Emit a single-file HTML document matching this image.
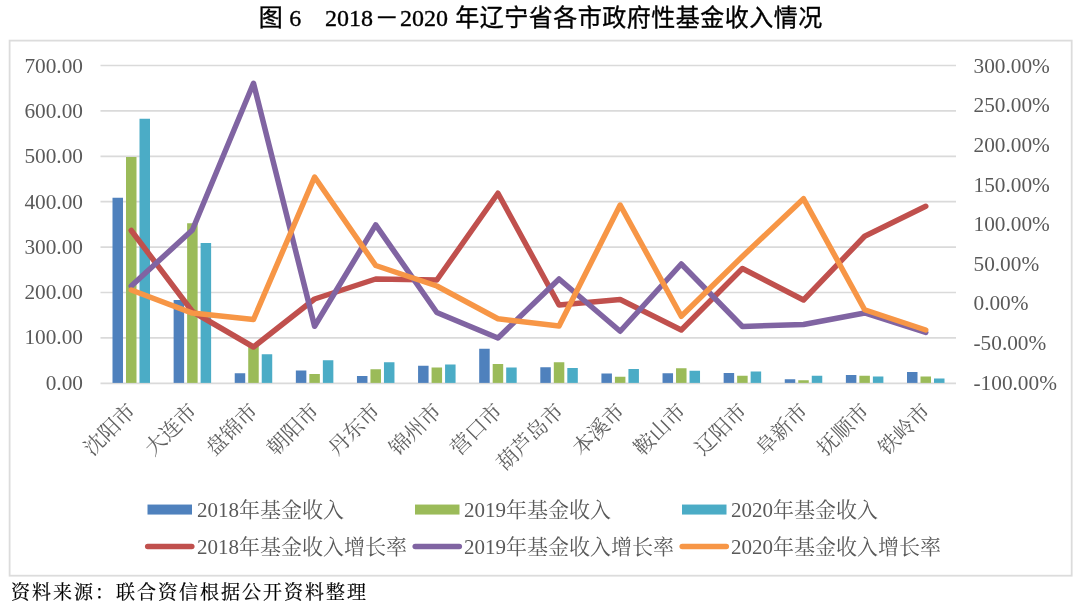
<!DOCTYPE html>
<html lang="zh-CN">
<head>
<meta charset="utf-8">
<title>图 6 2018－2020 年辽宁省各市政府性基金收入情况</title>
<style>
html,body{margin:0;padding:0;background:#fff;}
body{width:1080px;height:608px;overflow:hidden;position:relative;}
svg{display:block;position:absolute;left:0;top:0;}
.ax{font-family:"Liberation Serif","Noto Serif CJK SC",serif;font-size:21.3px;fill:#595959;}
.cat{font-family:"Liberation Serif","Noto Serif CJK SC",serif;font-size:21px;fill:#616161;}
.lg{font-family:"Liberation Serif","Noto Serif CJK SC",serif;font-size:21px;fill:#595959;}
.title{font-family:"Liberation Serif","Noto Sans CJK SC",sans-serif;font-size:24px;font-weight:400;fill:#000;stroke:#000;stroke-width:0.35px;}
.src{font-family:"Liberation Serif","Noto Serif CJK SC",serif;font-size:19px;fill:#000;stroke:#000;stroke-width:0.2px;letter-spacing:2px;}
</style>
</head>
<body>
<svg width="1080" height="608" viewBox="0 0 1080 608">
<rect x="0" y="0" width="1080" height="608" fill="#fff"/>
<text class="title" y="25.8" xml:space="preserve"><tspan x="258.7">图 </tspan><tspan x="289.3">6   </tspan><tspan x="325">2018</tspan><tspan x="374.8">－</tspan><tspan x="400">2020 </tspan><tspan x="455.2" letter-spacing="0.5">年辽宁省各市政府性基金收入情况</tspan></text>
<rect x="9.6" y="40.6" width="1062.1" height="535.1" fill="#fff" stroke="#dcdcdc" stroke-width="1.8"/>
<line x1="100.5" x2="956" y1="65.50" y2="65.50" stroke="#dadada" stroke-width="1.7"/>
<line x1="100.5" x2="956" y1="110.90" y2="110.90" stroke="#dadada" stroke-width="1.7"/>
<line x1="100.5" x2="956" y1="156.30" y2="156.30" stroke="#dadada" stroke-width="1.7"/>
<line x1="100.5" x2="956" y1="201.70" y2="201.70" stroke="#dadada" stroke-width="1.7"/>
<line x1="100.5" x2="956" y1="247.10" y2="247.10" stroke="#dadada" stroke-width="1.7"/>
<line x1="100.5" x2="956" y1="292.50" y2="292.50" stroke="#dadada" stroke-width="1.7"/>
<line x1="100.5" x2="956" y1="337.90" y2="337.90" stroke="#dadada" stroke-width="1.7"/>
<line x1="100.5" x2="956" y1="383.30" y2="383.30" stroke="#dadada" stroke-width="1.7"/>
<text class="ax" x="83" y="72.55" text-anchor="end">700.00</text>
<text class="ax" x="83" y="117.87" text-anchor="end">600.00</text>
<text class="ax" x="83" y="163.19" text-anchor="end">500.00</text>
<text class="ax" x="83" y="208.51" text-anchor="end">400.00</text>
<text class="ax" x="83" y="253.84" text-anchor="end">300.00</text>
<text class="ax" x="83" y="299.16" text-anchor="end">200.00</text>
<text class="ax" x="83" y="344.48" text-anchor="end">100.00</text>
<text class="ax" x="83" y="389.80" text-anchor="end">0.00</text>
<text class="ax" x="973.5" y="72.55">300.00%</text>
<text class="ax" x="973.5" y="112.21">250.00%</text>
<text class="ax" x="973.5" y="151.86">200.00%</text>
<text class="ax" x="973.5" y="191.52">150.00%</text>
<text class="ax" x="973.5" y="231.18">100.00%</text>
<text class="ax" x="973.5" y="270.83">50.00%</text>
<text class="ax" x="973.5" y="310.49">0.00%</text>
<text class="ax" x="973.5" y="350.14">-50.00%</text>
<text class="ax" x="973.5" y="389.80">-100.00%</text>
<rect x="112.50" y="197.75" width="10.5" height="185.15" fill="#4f81bd"/>
<rect x="126.00" y="157.00" width="10.5" height="225.90" fill="#9bbb59"/>
<rect x="139.50" y="118.75" width="10.5" height="264.15" fill="#4bacc6"/>
<rect x="173.62" y="300.00" width="10.5" height="82.90" fill="#4f81bd"/>
<rect x="187.12" y="223.25" width="10.5" height="159.65" fill="#9bbb59"/>
<rect x="200.62" y="243.00" width="10.5" height="139.90" fill="#4bacc6"/>
<rect x="234.73" y="373.25" width="10.5" height="9.65" fill="#4f81bd"/>
<rect x="248.23" y="345.00" width="10.5" height="37.90" fill="#9bbb59"/>
<rect x="261.73" y="354.25" width="10.5" height="28.65" fill="#4bacc6"/>
<rect x="295.85" y="370.50" width="10.5" height="12.40" fill="#4f81bd"/>
<rect x="309.35" y="374.00" width="10.5" height="8.90" fill="#9bbb59"/>
<rect x="322.85" y="360.25" width="10.5" height="22.65" fill="#4bacc6"/>
<rect x="356.96" y="376.00" width="10.5" height="6.90" fill="#4f81bd"/>
<rect x="370.46" y="369.25" width="10.5" height="13.65" fill="#9bbb59"/>
<rect x="383.96" y="362.25" width="10.5" height="20.65" fill="#4bacc6"/>
<rect x="418.07" y="365.75" width="10.5" height="17.15" fill="#4f81bd"/>
<rect x="431.57" y="367.50" width="10.5" height="15.40" fill="#9bbb59"/>
<rect x="445.07" y="364.50" width="10.5" height="18.40" fill="#4bacc6"/>
<rect x="479.19" y="348.75" width="10.5" height="34.15" fill="#4f81bd"/>
<rect x="492.69" y="364.00" width="10.5" height="18.90" fill="#9bbb59"/>
<rect x="506.19" y="367.50" width="10.5" height="15.40" fill="#4bacc6"/>
<rect x="540.31" y="367.25" width="10.5" height="15.65" fill="#4f81bd"/>
<rect x="553.81" y="362.25" width="10.5" height="20.65" fill="#9bbb59"/>
<rect x="567.31" y="368.00" width="10.5" height="14.90" fill="#4bacc6"/>
<rect x="601.42" y="373.50" width="10.5" height="9.40" fill="#4f81bd"/>
<rect x="614.92" y="376.75" width="10.5" height="6.15" fill="#9bbb59"/>
<rect x="628.42" y="369.00" width="10.5" height="13.90" fill="#4bacc6"/>
<rect x="662.53" y="373.25" width="10.5" height="9.65" fill="#4f81bd"/>
<rect x="676.03" y="368.25" width="10.5" height="14.65" fill="#9bbb59"/>
<rect x="689.53" y="370.75" width="10.5" height="12.15" fill="#4bacc6"/>
<rect x="723.65" y="373.00" width="10.5" height="9.90" fill="#4f81bd"/>
<rect x="737.15" y="375.75" width="10.5" height="7.15" fill="#9bbb59"/>
<rect x="750.65" y="371.50" width="10.5" height="11.40" fill="#4bacc6"/>
<rect x="784.76" y="379.25" width="10.5" height="3.65" fill="#4f81bd"/>
<rect x="798.26" y="380.25" width="10.5" height="2.65" fill="#9bbb59"/>
<rect x="811.76" y="375.75" width="10.5" height="7.15" fill="#4bacc6"/>
<rect x="845.88" y="375.00" width="10.5" height="7.90" fill="#4f81bd"/>
<rect x="859.38" y="375.75" width="10.5" height="7.15" fill="#9bbb59"/>
<rect x="872.88" y="376.50" width="10.5" height="6.40" fill="#4bacc6"/>
<rect x="907.00" y="372.00" width="10.5" height="10.90" fill="#4f81bd"/>
<rect x="920.50" y="376.50" width="10.5" height="6.40" fill="#9bbb59"/>
<rect x="934.00" y="378.50" width="10.5" height="4.40" fill="#4bacc6"/>
<polyline points="131.25,230.50 192.37,311.50 253.48,347.00 314.60,299.00 375.71,279.00 436.82,280.00 497.94,193.25 559.06,305.00 620.17,299.50 681.28,330.00 742.40,268.50 803.51,300.00 864.63,236.25 925.75,206.25" fill="none" stroke="#c0504d" stroke-width="5.5" stroke-linecap="round" stroke-linejoin="round"/>
<polyline points="131.25,286.00 192.37,230.00 253.48,83.25 314.60,326.25 375.71,224.90 436.82,312.50 497.94,338.00 559.06,279.00 620.17,331.25 681.28,264.00 742.40,326.50 803.51,324.50 864.63,313.00 925.75,332.50" fill="none" stroke="#8064a2" stroke-width="5.5" stroke-linecap="round" stroke-linejoin="round"/>
<polyline points="131.25,290.00 192.37,313.10 253.48,319.50 314.60,177.00 375.71,265.50 436.82,286.00 497.94,318.75 559.06,326.00 620.17,205.00 681.28,316.25 742.40,256.50 803.51,198.75 864.63,309.75 925.75,330.00" fill="none" stroke="#f79646" stroke-width="5.5" stroke-linecap="round" stroke-linejoin="round"/>
<text class="cat" text-anchor="end" transform="translate(125.65,401) rotate(-45)" x="0" y="16">沈阳市</text>
<text class="cat" text-anchor="end" transform="translate(186.77,401) rotate(-45)" x="0" y="16">大连市</text>
<text class="cat" text-anchor="end" transform="translate(247.88,401) rotate(-45)" x="0" y="16">盘锦市</text>
<text class="cat" text-anchor="end" transform="translate(309.00,401) rotate(-45)" x="0" y="16">朝阳市</text>
<text class="cat" text-anchor="end" transform="translate(370.11,401) rotate(-45)" x="0" y="16">丹东市</text>
<text class="cat" text-anchor="end" transform="translate(431.22,401) rotate(-45)" x="0" y="16">锦州市</text>
<text class="cat" text-anchor="end" transform="translate(492.34,401) rotate(-45)" x="0" y="16">营口市</text>
<text class="cat" text-anchor="end" transform="translate(553.46,401) rotate(-45)" x="0" y="16">葫芦岛市</text>
<text class="cat" text-anchor="end" transform="translate(614.57,401) rotate(-45)" x="0" y="16">本溪市</text>
<text class="cat" text-anchor="end" transform="translate(675.68,401) rotate(-45)" x="0" y="16">鞍山市</text>
<text class="cat" text-anchor="end" transform="translate(736.80,401) rotate(-45)" x="0" y="16">辽阳市</text>
<text class="cat" text-anchor="end" transform="translate(797.91,401) rotate(-45)" x="0" y="16">阜新市</text>
<text class="cat" text-anchor="end" transform="translate(859.03,401) rotate(-45)" x="0" y="16">抚顺市</text>
<text class="cat" text-anchor="end" transform="translate(920.14,401) rotate(-45)" x="0" y="16">铁岭市</text>
<rect x="147.5" y="504.55" width="44.5" height="10" fill="#4f81bd"/>
<text class="lg" x="197" y="516.6">2018年基金收入</text>
<rect x="415" y="504.55" width="44.5" height="10" fill="#9bbb59"/>
<text class="lg" x="464" y="516.6">2019年基金收入</text>
<rect x="682" y="504.55" width="44.5" height="10" fill="#4bacc6"/>
<text class="lg" x="731" y="516.6">2020年基金收入</text>
<line x1="147.7" x2="191.8" y1="546.5" y2="546.5" stroke="#c0504d" stroke-width="5.5" stroke-linecap="round"/>
<text class="lg" x="197" y="554">2018年基金收入增长率</text>
<line x1="415.2" x2="459.3" y1="546.5" y2="546.5" stroke="#8064a2" stroke-width="5.5" stroke-linecap="round"/>
<text class="lg" x="464" y="554">2019年基金收入增长率</text>
<line x1="682.2" x2="726.3" y1="546.5" y2="546.5" stroke="#f79646" stroke-width="5.5" stroke-linecap="round"/>
<text class="lg" x="731" y="554">2020年基金收入增长率</text>
<text class="src" x="11" y="599">资料来源：联合资信根据公开资料整理</text>
</svg>
</body>
</html>
